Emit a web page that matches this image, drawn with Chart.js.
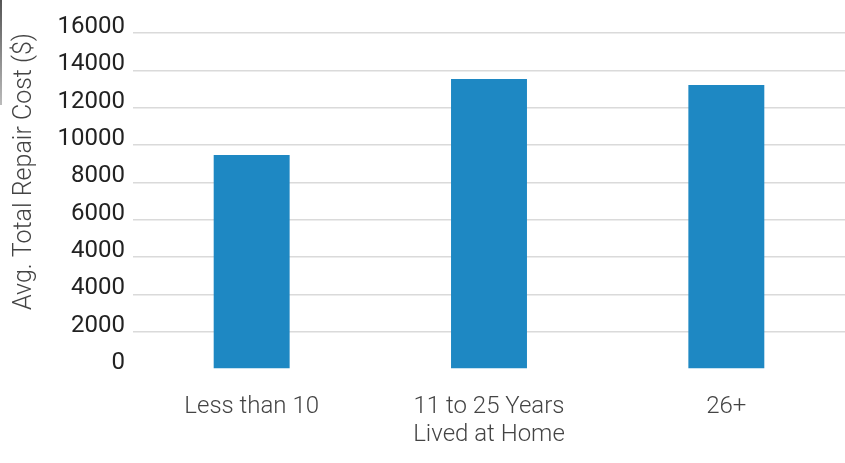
<!DOCTYPE html>
<html>
<head>
<meta charset="utf-8">
<script src="https://cdn.jsdelivr.net/npm/chart.js@4"></script>
<style>
  html, body { margin: 0; padding: 0; background: #fff; }
  #wrap { position: relative; width: 845px; height: 463px; }
  #edge { position: absolute; left: 0; top: 0; width: 2px; height: 105px;
          background: linear-gradient(#555, #bbb); }
</style>
</head>
<body>
<div id="wrap">
  <canvas id="barChart" width="845" height="463"></canvas>
  <div id="edge"></div>
</div>
<script>
// values in axis units (axis runs 0..18000, step 2000)
const categories = ["Less than 10", "11 to 25 Years", "26+"];
const repairCost = [11460, 15540, 15210];
// tick labels as printed on the source chart, bottom to top
const yTickLabels = ["0", "2000", "4000", "4000", "6000", "8000", "10000", "12000", "14000", "16000"];

document.addEventListener("DOMContentLoaded", function () {

    new Chart(document.getElementById("barChart"), {
        type: "bar",
        data: {
            labels: categories,
            datasets: [{
                data: repairCost,
                backgroundColor: "#1e88c3",
                categoryPercentage: 1,
                barPercentage: 0.32
            }]
        },
        options: {
            responsive: false,
            animation: false,
            layout: {
                padding: { top: 33, right: 0, bottom: 0, left: 0 }
            },
            plugins: {
                legend: { display: false },
                tooltip: { enabled: false }
            },
            scales: {
                x: {
                    grid: { display: false },
                    border: { display: false },
                    ticks: {
                        color: "#444",
                        font: { family: "Roboto", size: 24, weight: 300 },
                        padding: 16,
                        maxRotation: 0
                    },
                    title: {
                        display: true,
                        text: "Lived at Home",
                        color: "#444",
                        font: { family: "Roboto", size: 24, weight: 300 },
                        padding: { top: 0, bottom: 14 }
                    },
                    afterFit: function (scale) { scale.height = 463 - 369; }
                },
                y: {
                    min: 0,
                    max: 18000,
                    border: { display: false },
                    grid: {
                        drawTicks: false,
                        lineWidth: 1.5,
                        color: ctx => ctx.index === 0 ? "rgba(0,0,0,0)" : "#dadada"
                    },
                    ticks: {
                        stepSize: 2000,
                        padding: 8,
                        labelOffset: -6,
                        color: "#222",
                        font: { family: "Roboto", size: 24 },
                        callback: (v, i) => yTickLabels[i]
                    },
                    title: {
                        display: true,
                        text: "Avg. Total Repair Cost ($)",
                        align: "end",
                        color: "#444",
                        font: { family: "Roboto", size: 25, weight: 300 },
                        padding: { top: 10, bottom: 0 }
                    },
                    afterFit: function (scale) { scale.width = 133; }
                }
            }
        }
    });

});
</script>
</body>
</html>
